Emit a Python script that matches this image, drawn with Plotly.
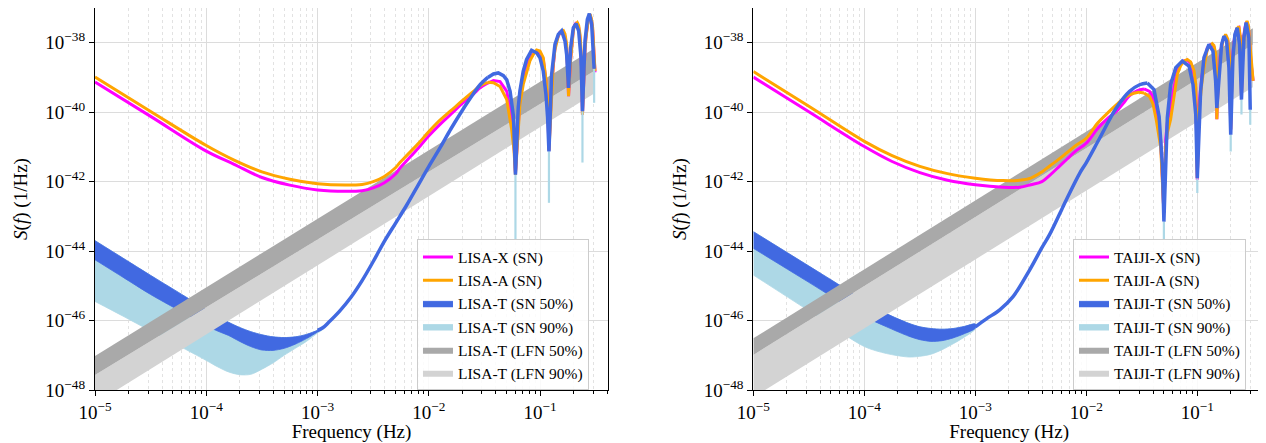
import numpy as np
import plotly.graph_objects as go

# ================= LISA (left panel) =================
lisa_logf_xa = [-5.0, -4.5, -4.0, -3.75, -3.5, -3.25, -3.0, -2.75, -2.6, -2.5, -2.4, -2.3, -2.26, -2.2, -2.1,
                -2.0, -1.9, -1.8, -1.7, -1.6, -1.54, -1.47, -1.42, -1.36, -1.30, -1.256, -1.235, -1.222,
                -1.197, -1.182, -1.152, -1.122, -1.092, -1.062, -1.032, -1.002, -0.972, -0.948, -0.933, -0.921,
                -0.897, -0.882, -0.867, -0.852, -0.837, -0.822, -0.807, -0.792, -0.777, -0.762, -0.753, -0.745,
                -0.726, -0.714, -0.702, -0.690, -0.678, -0.666, -0.654, -0.642, -0.633, -0.627, -0.620,
                -0.605, -0.597, -0.588, -0.576, -0.564, -0.552, -0.540, -0.528, -0.515, -0.507]
lisa_X = [-39.13, -40.12, -41.12, -41.50, -41.88, -42.10, -42.24, -42.28, -42.26, -42.18, -42.03, -41.78, -41.61, -41.40, -41.05,
          -40.68, -40.35, -40.05, -39.75, -39.48, -39.30, -39.16, -39.09, -39.12, -39.40, -40.20, -40.90, -41.75,
          -40.20, -39.60, -39.05, -38.70, -38.45, -38.32, -38.24, -38.28, -38.48, -39.10, -39.70, -41.10,
          -39.20, -38.55, -38.15, -37.92, -37.78, -37.70, -37.67, -37.70, -37.82, -38.15, -38.80, -39.54,
          -38.45, -37.95, -37.62, -37.48, -37.44, -37.45, -37.56, -37.85, -38.30, -38.80, -40.07,
          -38.55, -38.15, -37.80, -37.42, -37.24, -37.20, -37.35, -37.65, -38.30, -38.85]
lisa_A = [-38.99, -39.98, -40.96, -41.38, -41.72, -41.93, -42.06, -42.10, -42.08, -42.00, -41.85, -41.60, -41.45, -41.25, -40.92,
          -40.56, -40.23, -39.95, -39.67, -39.40, -39.24, -39.14, -39.15, -39.26, -39.64, -40.50, -41.10, -41.80,
          -40.50, -39.78, -39.20, -38.82, -38.52, -38.34, -38.21, -38.24, -38.43, -39.05, -39.60, -41.10,
          -39.30, -38.63, -38.20, -37.95, -37.80, -37.71, -37.66, -37.65, -37.75, -38.05, -38.72, -39.54,
          -38.50, -38.00, -37.65, -37.50, -37.45, -37.42, -37.50, -37.76, -38.20, -38.72, -40.07,
          -38.60, -38.20, -37.85, -37.45, -37.25, -37.18, -37.30, -37.57, -38.20, -38.82]
lisa_logf_band = [-5.0, -4.75, -4.5, -4.25, -4.0, -3.9, -3.8, -3.7, -3.6, -3.5, -3.4, -3.3, -3.2, -3.1, -3.0, -2.95]
lisa_T50_hi = [-43.70, -44.20, -44.70, -45.19, -45.68, -45.87, -46.05, -46.20, -46.32, -46.41, -46.47, -46.49, -46.47, -46.40, -46.28, -46.20]
lisa_T50_lo = [-44.25, -44.75, -45.25, -45.70, -46.15, -46.30, -46.43, -46.60, -46.75, -46.85, -46.86, -46.80, -46.68, -46.52, -46.33, -46.22]
lisa_T90_lo = [-45.45, -45.87, -46.30, -46.72, -47.15, -47.33, -47.48, -47.56, -47.55, -47.40, -47.22, -47.00, -46.80, -46.60, -46.36, -46.25]
lisa_logf_tline = [-3.0, -2.95, -2.9, -2.8, -2.7, -2.6, -2.5, -2.4, -2.3, -2.2, -2.1, -2.0, -1.9, -1.8, -1.7, -1.6,
                   -1.54, -1.47, -1.42, -1.376, -1.33, -1.30, -1.27, -1.24, -1.222,
                   -1.197, -1.182, -1.152, -1.122, -1.077, -1.032, -1.002, -0.972, -0.948, -0.933, -0.921,
                   -0.897, -0.867, -0.837, -0.807, -0.777, -0.762, -0.745,
                   -0.726, -0.702, -0.678, -0.654, -0.633, -0.620,
                   -0.597, -0.576, -0.558, -0.537, -0.515]
lisa_T_line = [-46.28, -46.20, -46.05, -45.72, -45.33, -44.85, -44.30, -43.72, -43.20, -42.68, -42.12, -41.56, -41.03, -40.47, -39.95, -39.47,
               -39.21, -39.00, -38.90, -38.87, -38.95, -39.07, -39.40, -40.12, -41.80,
               -39.87, -39.39, -38.82, -38.48, -38.22, -38.29, -38.43, -38.82, -39.49, -40.16, -41.13,
               -38.91, -38.05, -37.76, -37.66, -37.95, -38.34, -39.30,
               -38.14, -37.57, -37.45, -37.66, -38.43, -39.97,
               -37.95, -37.33, -37.16, -37.47, -38.75]
lisa_logf_null = [-1.222, -0.921, -0.620, -0.515]
lisa_null_top = [-41.80, -41.13, -39.97, -38.75]
lisa_null_bot = [-43.68, -42.61, -41.45, -39.73]
lisa_logf_lfn = [-5.0, -0.507]
lisa_LFN50_hi = [-47.02, -38.15]
lisa_LFN50_lo = [-47.57, -38.80]
lisa_LFN90_lo = [-48.39, -39.45]

# ================= TAIJI (right panel) =================
taiji_logf_xa = [-5.0, -4.5, -4.0, -3.75, -3.5, -3.25, -3.0, -2.75, -2.6, -2.5, -2.4, -2.33, -2.25, -2.18, -2.1,
                 -2.0, -1.9, -1.8, -1.73, -1.66, -1.61, -1.54, -1.48, -1.43, -1.40, -1.37, -1.33, -1.315, -1.301,
                 -1.285, -1.27, -1.24, -1.21, -1.18, -1.15, -1.12, -1.09, -1.06, -1.03, -1.014, -1.0,
                 -0.985, -0.96, -0.94, -0.91, -0.88, -0.865, -0.85, -0.835, -0.829, -0.824,
                 -0.81, -0.79, -0.77, -0.745, -0.725, -0.71, -0.699,
                 -0.685, -0.665, -0.645, -0.625, -0.612, -0.602,
                 -0.59, -0.575, -0.562, -0.552, -0.54, -0.53, -0.515, -0.497]
taiji_X = [-38.99, -39.99, -40.99, -41.42, -41.74, -41.96, -42.09, -42.16, -42.16, -42.09, -42.00, -41.82, -41.58, -41.37, -41.13,
           -40.89, -40.48, -40.16, -39.98, -39.72, -39.52, -39.38, -39.33, -39.40, -39.55, -39.93, -40.80, -41.70, -42.90,
           -40.80, -40.30, -39.80, -39.25, -38.80, -38.62, -38.52, -38.50, -38.60, -38.90, -39.30, -41.95,
           -39.80, -39.00, -38.60, -38.15, -38.05, -38.05, -38.12, -38.40, -39.00, -40.20,
           -38.90, -38.25, -37.93, -37.80, -37.95, -38.50, -40.50,
           -38.50, -37.85, -37.60, -37.56, -37.90, -39.50,
           -38.20, -37.65, -37.45, -37.40, -37.55, -38.00, -38.60, -39.10]
taiji_A = [-38.83, -39.83, -40.84, -41.25, -41.56, -41.77, -41.90, -41.97, -41.96, -41.90, -41.72, -41.55, -41.36, -41.18, -40.97,
           -40.75, -40.32, -40.00, -39.79, -39.60, -39.50, -39.43, -39.45, -39.55, -39.75, -40.22, -41.00, -41.80, -42.90,
           -41.00, -40.60, -40.20, -39.50, -38.91, -38.66, -38.53, -38.48, -38.55, -38.80, -39.20, -41.90,
           -40.00, -39.20, -38.72, -38.19, -38.06, -38.03, -38.08, -38.30, -38.90, -40.20,
           -39.00, -38.30, -37.95, -37.76, -37.90, -38.40, -40.50,
           -38.60, -37.90, -37.60, -37.53, -37.85, -39.50,
           -38.30, -37.70, -37.45, -37.37, -37.50, -37.90, -38.50, -39.10]
taiji_logf_band = [-5.0, -4.5, -4.0, -3.8, -3.6, -3.5, -3.4, -3.3, -3.2, -3.1, -3.0]
taiji_T50_hi = [-43.44, -44.43, -45.42, -45.80, -46.08, -46.18, -46.23, -46.25, -46.23, -46.17, -46.10]
taiji_T50_lo = [-43.92, -44.90, -45.88, -46.18, -46.45, -46.55, -46.60, -46.58, -46.50, -46.38, -46.22]
taiji_T90_lo = [-44.69, -45.72, -46.75, -46.95, -47.05, -47.03, -46.97, -46.84, -46.67, -46.48, -46.24]
taiji_logf_tline = [-3.0, -2.9, -2.78, -2.66, -2.51, -2.4, -2.33, -2.21, -2.18, -2.06, -2.0, -1.88, -1.73, -1.61,
                    -1.52, -1.45, -1.39, -1.344, -1.314, -1.301,
                    -1.27, -1.24, -1.194, -1.135, -1.075, -1.039, -1.014, -1.0,
                    -0.97, -0.94, -0.895, -0.859, -0.835, -0.824,
                    -0.799, -0.781, -0.760, -0.736, -0.715, -0.699,
                    -0.679, -0.661, -0.640, -0.619, -0.602,
                    -0.58, -0.56, -0.535, -0.523]
taiji_T_line = [-46.18, -45.95, -45.69, -45.31, -44.54, -43.90, -43.52, -42.72, -42.52, -41.76, -41.45, -40.75, -39.88, -39.40,
                -39.21, -39.16, -39.35, -40.12, -41.56, -43.15,
                -40.16, -39.20, -38.72, -38.53, -38.67, -39.20, -40.07, -41.90,
                -39.39, -38.43, -38.05, -38.24, -39.10, -39.88,
                -38.72, -38.05, -37.81, -37.95, -38.72, -40.65,
                -38.43, -37.76, -37.57, -38.05, -39.64,
                -37.86, -37.42, -37.86, -39.93]
taiji_logf_null = [-1.301, -1.0, -0.699, -0.602, -0.523]
taiji_null_top = [-43.15, -41.90, -40.65, -39.64, -39.93]
taiji_null_bot = [-43.68, -42.33, -41.13, -40.07, -40.36]
taiji_logf_lfn = [-5.0, -0.50]
taiji_LFN50_hi = [-46.51, -37.58]
taiji_LFN50_lo = [-46.99, -38.06]
taiji_LFN90_lo = [-48.21, -39.28]

x_tick_exponents = [-5, -4, -3, -2, -1]
y_tick_exponents = [-48, -46, -44, -42, -40, -38]

C_X, C_A = '#FF00FF', '#FFA500'
C_T50, C_T90 = '#4169E1', '#ADD8E6'
C_L50, C_L90 = '#A9A9A9', '#D3D3D3'
FONT = 'Liberation Serif, Times New Roman, DejaVu Serif, serif'
SPLIT = -1.5   # smooth (spline) part below this log-frequency, sharp nulls above

def p(v):
    return np.power(10.0, np.asarray(v, dtype=float))

def band(logf, hi, lo):
    f = p(logf)
    return np.concatenate([f, f[::-1]]), np.concatenate([p(hi), p(lo)[::-1]])

def split(logf, vals):
    lf = np.asarray(logf)
    i = int(np.argmax(lf >= SPLIT))
    return (logf[:i + 1], vals[:i + 1]), (logf[i:], vals[i:])

fig = go.Figure()

def add_curve(logf, vals, color, width, name, rank, xa, ya, legend, show):
    (l1, v1), (l2, v2) = split(logf, vals)
    fig.add_trace(go.Scatter(x=p(l1), y=p(v1), mode='lines', line=dict(width=width, color=color, shape='spline', smoothing=1.0),
                             name=name, legendrank=rank, showlegend=show, xaxis=xa, yaxis=ya, legend=legend, hoverinfo='skip'))
    fig.add_trace(go.Scatter(x=p(l2), y=p(v2), mode='lines', line=dict(width=width, color=color),
                             showlegend=False, xaxis=xa, yaxis=ya, hoverinfo='skip'))

def add_panel(name, d, xa, ya, legend):
    bx, by = band(d['logf_band'], d['T50_hi'], d['T90_lo'])
    fig.add_trace(go.Scatter(x=bx, y=by, fill='toself', fillcolor=C_T90, mode='lines',
                             line=dict(width=0.8, color=C_T90, shape='spline', smoothing=0.8), name=f'{name}-T (SN 90%)',
                             legendrank=4, xaxis=xa, yaxis=ya, legend=legend, hoverinfo='skip'))
    bx, by = band(d['logf_band'], d['T50_hi'], d['T50_lo'])
    fig.add_trace(go.Scatter(x=bx, y=by, fill='toself', fillcolor=C_T50, mode='lines',
                             line=dict(width=0.8, color=C_T50, shape='spline', smoothing=0.8), name=f'{name}-T (SN 50%)',
                             legendrank=3, xaxis=xa, yaxis=ya, legend=legend, hoverinfo='skip'))
    bx, by = band(d['logf_lfn'], d['LFN50_lo'], d['LFN90_lo'])
    fig.add_trace(go.Scatter(x=bx, y=by, fill='toself', fillcolor=C_L90, mode='lines',
                             line=dict(width=0), name=f'{name}-T (LFN 90%)',
                             legendrank=6, xaxis=xa, yaxis=ya, legend=legend, hoverinfo='skip'))
    bx, by = band(d['logf_lfn'], d['LFN50_hi'], d['LFN50_lo'])
    fig.add_trace(go.Scatter(x=bx, y=by, fill='toself', fillcolor=C_L50, mode='lines',
                             line=dict(width=0), name=f'{name}-T (LFN 50%)',
                             legendrank=5, xaxis=xa, yaxis=ya, legend=legend, hoverinfo='skip'))
    add_curve(d['logf_xa'], d['X'], C_X, 3, f'{name}-X (SN)', 1, xa, ya, legend, True)
    add_curve(d['logf_xa'], d['A'], C_A, 3, f'{name}-A (SN)', 2, xa, ya, legend, True)
    sx, sy = [], []
    for lf, t, b in zip(d['logf_null'], d['null_top'], d['null_bot']):
        sx += [10 ** lf, 10 ** lf, None]
        sy += [10 ** t, 10 ** b, None]
    fig.add_trace(go.Scatter(x=sx, y=sy, mode='lines', line=dict(width=2.2, color=C_T90),
                             showlegend=False, xaxis=xa, yaxis=ya, hoverinfo='skip'))
    add_curve(d['logf_tline'], d['T_line'], C_T50, 3.5, None, 10, xa, ya, legend, False)

lisa = dict(logf_xa=lisa_logf_xa, X=lisa_X, A=lisa_A, logf_band=lisa_logf_band,
            T50_hi=lisa_T50_hi, T50_lo=lisa_T50_lo, T90_lo=lisa_T90_lo,
            logf_tline=lisa_logf_tline, T_line=lisa_T_line,
            logf_null=lisa_logf_null, null_top=lisa_null_top, null_bot=lisa_null_bot,
            logf_lfn=lisa_logf_lfn, LFN50_hi=lisa_LFN50_hi, LFN50_lo=lisa_LFN50_lo, LFN90_lo=lisa_LFN90_lo)
taiji = dict(logf_xa=taiji_logf_xa, X=taiji_X, A=taiji_A, logf_band=taiji_logf_band,
             T50_hi=taiji_T50_hi, T50_lo=taiji_T50_lo, T90_lo=taiji_T90_lo,
             logf_tline=taiji_logf_tline, T_line=taiji_T_line,
             logf_null=taiji_logf_null, null_top=taiji_null_top, null_bot=taiji_null_bot,
             logf_lfn=taiji_logf_lfn, LFN50_hi=taiji_LFN50_hi, LFN50_lo=taiji_LFN50_lo, LFN90_lo=taiji_LFN90_lo)

add_panel('LISA', lisa, 'x', 'y', 'legend')
add_panel('TAIJI', taiji, 'x2', 'y2', 'legend2')

minor_vals = [m * 10.0 ** e for e in range(-5, 0) for m in range(2, 10)]
tickfont = dict(family=FONT, size=19, color='black')

def pow_label(e):
    return '10<sup>\u2212%d</sup>' % (-e)

def xaxis(domain, anchor):
    return dict(type='log', range=[-5, -0.39], domain=domain, anchor=anchor,
                tickvals=[10.0 ** e for e in x_tick_exponents], ticktext=[pow_label(e) for e in x_tick_exponents],
                showline=True, linecolor='black', linewidth=1.2, mirror=True,
                ticks='outside', ticklen=5, tickcolor='black', tickwidth=1,
                showgrid=True, gridcolor='#dcdcdc', gridwidth=1.3, zeroline=False,
                minor=dict(tickvals=minor_vals, ticks='outside', ticklen=3, tickcolor='black', tickwidth=0.8,
                           showgrid=True, gridcolor='#e2e2e2', gridwidth=0.7, griddash='dot'),
                tickfont=tickfont,
                title=dict(text='Frequency (Hz)', font=dict(family=FONT, size=19, color='black'), standoff=2))

def yaxis(anchor):
    return dict(type='log', range=[-48, -37], anchor=anchor, domain=[0, 1],
                tickvals=[10.0 ** e for e in y_tick_exponents], ticktext=[pow_label(e) for e in y_tick_exponents],
                showline=True, linecolor='black', linewidth=1.2, mirror=True,
                ticks='outside', ticklen=5, tickcolor='black', tickwidth=1,
                showgrid=True, gridcolor='#dcdcdc', gridwidth=1.3, zeroline=False,
                tickfont=tickfont,
                title=dict(text='<i>S</i>(<i>f</i>) (1/Hz)', font=dict(family=FONT, size=19, color='black'), standoff=12))

legend_style = dict(font=dict(family=FONT, size=15.5, color='black'), bgcolor='rgba(255,255,255,0.85)',
                    bordercolor='#cccccc', borderwidth=1, xanchor='left', yanchor='top',
                    traceorder='normal', tracegroupgap=0, itemwidth=30)

# the page body has an 8px margin, so the figure is 8px smaller than the window
fig.update_layout(
    width=1258, height=435,
    margin=dict(l=87, r=1, t=0, b=53),
    paper_bgcolor='white', plot_bgcolor='white',
    font=dict(family=FONT, color='black'),
    xaxis=xaxis([0, 0.4385], 'y'), yaxis=yaxis('x'),
    xaxis2=xaxis([0.5627, 1.0], 'y2'), yaxis2=yaxis('x2'),
    legend=dict(x=0.2752, y=0.394, **legend_style),
    legend2=dict(x=0.8359, y=0.394, **legend_style),
    hovermode=False,
)

fig.write_html('out.html')
